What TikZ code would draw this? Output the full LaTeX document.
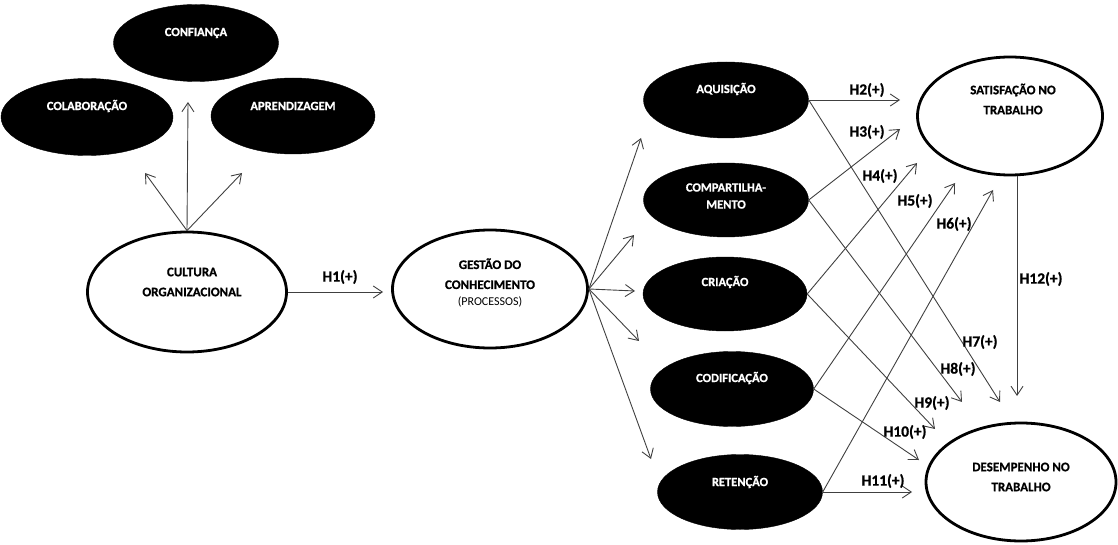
\documentclass[tikz,border=0pt]{standalone}
\usepackage{fontspec}
\setmainfont{Carlito}[BoldFont={Carlito Bold}, BoldFeatures={FakeBold=0.8}]
\usetikzlibrary{shapes.geometric, arrows.meta, calc}

\begin{document}
\begin{tikzpicture}[x=1pt, y=-1pt,
    blackell/.style={ellipse, fill=black, draw=black, inner sep=0pt},
    whiteell/.style={ellipse, draw=black, line width=2.8pt, fill=white, inner sep=0pt},
    wtxt/.style={text=white, font=\fontsize{12.5}{17}\selectfont\bfseries, align=center},
    btxt/.style={font=\fontsize{13}{20}\selectfont\bfseries, align=center},
    hyp/.style={draw=black!75, line width=0.9pt, -{Straight Barb[length=9pt,width=12pt]}},
    hlbl/.style={font=\fontsize{15.5}{17}\selectfont\bfseries}]

    \useasboundingbox (0,0) rectangle (1118,545);

    % Dimensions of the culture
    \node[blackell, minimum width=165, minimum height=77] (conf) at (196,43) {};
    \node[blackell, minimum width=172, minimum height=77] (cola) at (87,117) {};
    \node[blackell, minimum width=164, minimum height=76] (apre) at (293,116) {};
    \node[wtxt] (confT) at (196,33) {CONFIANÇA};
    \node[wtxt] (colaT) at (87,106) {COLABORAÇÃO};
    \node[wtxt] (apreT) at (293,106) {APRENDIZAGEM};

    % Main constructs
    \node[whiteell, minimum width=199, minimum height=120] (cult) at (187,292) {};
    \node[whiteell, minimum width=195, minimum height=118] (gest) at (490,289) {};
    \node[whiteell, minimum width=185, minimum height=118] (sat) at (1010,116) {};
    \node[whiteell, minimum width=190, minimum height=118] (des) at (1021,482) {};
    \node[btxt] (cultT) at (192,282) {CULTURA\\ORGANIZACIONAL};
    \node[btxt] (gestT) at (490,283) {GESTÃO DO\\CONHECIMENTO\\[-3pt]{\fontsize{12}{14}\selectfont\mdseries (PROCESSOS)}};
    \node[btxt] (satT) at (1013,99) {SATISFAÇÃO NO\\TRABALHO};
    \node[btxt] (desT) at (1021,477) {DESEMPENHO NO\\TRABALHO};

    % Knowledge processes
    \node[blackell, minimum width=165, minimum height=76] (aqui) at (726,100) {};
    \node[blackell, minimum width=165, minimum height=74] (comp) at (726,200) {};
    \node[blackell, minimum width=164, minimum height=74] (cria) at (725,294) {};
    \node[blackell, minimum width=163, minimum height=75] (codi) at (732,389) {};
    \node[blackell, minimum width=165, minimum height=75] (rete) at (740,492) {};
    \node[wtxt] (aquiT) at (726,89) {AQUISIÇÃO};
    \node[wtxt] (compT) at (726,196) {COMPARTILHA-\\MENTO};
    \node[wtxt] (criaT) at (725,282) {CRIAÇÃO};
    \node[wtxt] (codiT) at (732,378) {CODIFICAÇÃO};
    \node[wtxt] (reteT) at (740,482) {RETENÇÃO};

    % arrow tips
    \coordinate (upC) at (188,102);
    \coordinate (upL) at (145,173);
    \coordinate (upR) at (242,173);
    \coordinate (t1) at (383,292);
    \coordinate (fA) at (641,138);
    \coordinate (fB) at (634,235);
    \coordinate (fC) at (635,291);
    \coordinate (fD) at (639,341);
    \coordinate (fE) at (651,459);
    \coordinate (t2) at (900,100);
    \coordinate (t3) at (900,129);
    \coordinate (t4) at (917,163);
    \coordinate (t5) at (955,183);
    \coordinate (t6) at (993,190);
    \coordinate (t7) at (1000,402);
    \coordinate (t8) at (962,402);
    \coordinate (t9) at (935,429);
    \coordinate (t10) at (919,460);
    \coordinate (t11) at (912,492);
    \coordinate (t12) at (1017,396);

    % Culture to its dimensions
    \draw[hyp] (cult.north) -- (upC);
    \draw[hyp] (cult.north) -- (upL);
    \draw[hyp] (cult.north) -- (upR);

    % H1
    \draw[hyp] (cult.east) -- (t1);
    \node[hlbl] (h1) at (340,277) {H1(+)};

    % Knowledge management to its processes
    \foreach \tip in {fA,fB,fC,fD,fE}
        \draw[hyp] (gest.east) -- (\tip);

    % Processes to job satisfaction
    \draw[hyp] (aqui.east) -- (t2);
    \draw[hyp] (comp.east) -- (t3);
    \draw[hyp] (cria.east) -- (t4);
    \draw[hyp] (codi.east) -- (t5);
    \draw[hyp] (rete.east) -- (t6);

    % Processes to job performance
    \draw[hyp] (aqui.east) -- (t7);
    \draw[hyp] (comp.east) -- (t8);
    \draw[hyp] (cria.east) -- (t9);
    \draw[hyp] (codi.east) -- (t10);
    \draw[hyp] (rete.east) -- (t11);

    % Satisfaction to performance
    \draw[hyp] (t12 |- sat.south) -- (t12);

    \node[hlbl] (h2) at (867,90) {H2(+)};
    \node[hlbl] (h3) at (867,132) {H3(+)};
    \node[hlbl] (h4) at (880,176) {H4(+)};
    \node[hlbl] (h5) at (915,201) {H5(+)};
    \node[hlbl] (h6) at (954,224) {H6(+)};
    \node[hlbl] (h7) at (980,342) {H7(+)};
    \node[hlbl] (h8) at (958,369) {H8(+)};
    \node[hlbl] (h9) at (932,403) {H9(+)};
    \node[hlbl] (h10) at (905,432) {H10(+)};
    \node[hlbl] (h11) at (883,481) {H11(+)};
    \node[hlbl] (h12) at (1041,279) {H12(+)};

\end{tikzpicture}
\end{document}
